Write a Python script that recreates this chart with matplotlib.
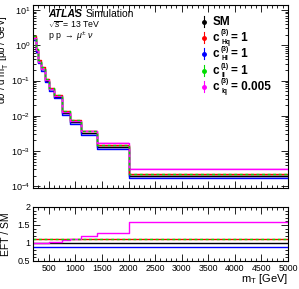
import numpy as np
import matplotlib
matplotlib.use('Agg')
import matplotlib.pyplot as plt
from matplotlib.ticker import MultipleLocator, LogLocator, NullFormatter

plt.rcParams['font.family'] = ['Liberation Sans', 'DejaVu Sans']
plt.rcParams['mathtext.fontset'] = 'custom'
plt.rcParams['mathtext.rm'] = 'Liberation Sans'
plt.rcParams['mathtext.it'] = 'Liberation Sans:italic'
plt.rcParams['mathtext.bf'] = 'Liberation Sans:bold'

# bin edges in m_T [GeV]
edges = [200, 250, 300, 350, 425, 500, 600, 750, 900, 1100, 1400, 2000, 5000]
# SM differential cross section [pb/GeV]
sm = [1.6, 0.72, 0.34, 0.21, 0.10, 0.056, 0.035, 0.012, 0.0066, 0.0032, 0.0013, 0.000195]
# EFT / SM ratios
r_hq3 = [1.12] * 12
r_hl3 = [0.90] * 12
r_ll1 = [1.12] * 12
r_lq3 = [1.01, 1.01, 1.01, 1.01, 1.01, 1.04, 1.04, 1.09, 1.11, 1.18, 1.29, 1.57]

# legend labels: base, superscript, subscript, value
leg_base = ['SM', 'c', 'c', 'c', 'c']
leg_sup = ['', '(3)', '(3)', '(1)', '(3)']
leg_sub = ['', 'Hq', 'Hl', 'll', 'lq']
leg_val = ['', '= 1', '= 1', '= 1', '= 0.005']
colors = ['black', 'red', 'blue', '#00dd00', '#ff00ff']

edges = np.array(edges)
sm = np.array(sm)
ratios = [np.ones(12), np.array(r_hq3), np.array(r_hl3), np.array(r_ll1), np.array(r_lq3)]

fig = plt.figure(figsize=(2.99, 2.89), dpi=100)
ax = fig.add_axes([0.110, 0.350, 0.853, 0.633])
axr = fig.add_axes([0.110, 0.097, 0.853, 0.187])

def stepvals(v):
    return np.append(v, v[-1])

# uncertainty bands
band = [0.04, 0.03, 0.05, 0.03, 0.05]
for i in [2, 4, 0]:
    y = sm * ratios[i]
    ax.fill_between(edges, stepvals(y * (1 - band[i])), stepvals(y * (1 + band[i])),
                    step='post', color=colors[i], alpha=0.25, lw=0)

for i in [0, 2, 1, 4]:
    ax.step(edges, stepvals(sm * ratios[i]), where='post', color=colors[i], lw=1.0)
    axr.step(edges, stepvals(ratios[i]), where='post', color=colors[i], lw=1.0)
ax.step(edges, stepvals(sm * ratios[3]), where='post', color=colors[3], lw=1.0, ls=(0, (2, 2)))
axr.step(edges, stepvals(ratios[3]), where='post', color=colors[3], lw=1.0, ls=(0, (2, 2)))

ax.set_yscale('log')
ax.set_ylim(9e-5, 14)
ax.set_xlim(200, 5000)
axr.set_xlim(200, 5000)
axr.set_ylim(0.5, 2)

for a in (ax, axr):
    a.tick_params(which='both', direction='in', top=True, right=True, labelsize=6.5, pad=2)
    a.tick_params(which='major', length=5, width=0.6)
    a.tick_params(which='minor', length=2.5, width=0.6)
    a.xaxis.set_major_locator(MultipleLocator(500))
    a.xaxis.set_minor_locator(MultipleLocator(100))
    for s in a.spines.values():
        s.set_linewidth(0.8)
ax.set_xticklabels([])
ax.yaxis.set_major_locator(LogLocator(base=10, numticks=10))
ax.yaxis.set_minor_locator(LogLocator(base=10, subs=np.arange(2, 10), numticks=20))
ax.yaxis.set_minor_formatter(NullFormatter())
axr.yaxis.set_minor_locator(MultipleLocator(0.1))
axr.set_yticks([0.5, 1, 1.5, 2])
axr.set_yticklabels(['0.5', '1', '1.5', '2'])
axr.set_xticks(np.arange(500, 5001, 500))
axr.set_xticklabels([str(v) for v in range(500, 5001, 500)], fontsize=6.3)

ax.set_ylabel(r'd$\sigma$ / d m$_{\mathrm{T}}^{l\nu}$ [pb / GeV]', fontsize=7, labelpad=1)
ax.yaxis.set_label_coords(-0.084, 0.70)
axr.set_ylabel('EFT / SM', fontsize=7.5, labelpad=1)
axr.yaxis.set_label_coords(-0.084, 0.5)
axr.set_xlabel(r'm$_{\mathrm{T}}$ [GeV]', fontsize=8)
axr.xaxis.set_label_coords(1.0, -0.33)
axr.xaxis.label.set_horizontalalignment('right')
axr.xaxis.label.set_verticalalignment('center')

ax.text(0.06, 0.951, 'ATLAS', transform=ax.transAxes, fontsize=7.5, fontweight='bold',
        fontstyle='italic', va='center')
ax.text(0.208, 0.951, 'Simulation', transform=ax.transAxes, fontsize=7.5, va='center')
ax.text(0.06, 0.891, r'$\sqrt{s}$ = 13 TeV', transform=ax.transAxes, fontsize=6.3, va='center')
ax.text(0.06, 0.83, r'p p $\rightarrow$ $\mu^{\pm}$ $\nu$', transform=ax.transAxes, fontsize=6.3, va='center')

# legend, placed by hand
leg_y = [0.909, 0.821, 0.732, 0.639, 0.552]
for k, yy in enumerate(leg_y):
    c = colors[k]
    ax.plot([0.67], [yy], 'o', color=c, ms=2.5, transform=ax.transAxes)
    ax.plot([0.67, 0.67], [yy - 0.03, yy + 0.03], '-', color=c, lw=0.8, transform=ax.transAxes)
    ax.text(0.706, yy, leg_base[k], transform=ax.transAxes, fontsize=8.5, fontweight='bold',
            va='center', ha='left')
    if leg_sup[k]:
        ax.text(0.738, yy + 0.027, leg_sup[k], transform=ax.transAxes, fontsize=4.8,
                fontweight='bold', va='center', ha='left')
        ax.text(0.738, yy - 0.026, leg_sub[k], transform=ax.transAxes, fontsize=4.8,
                fontweight='bold', va='center', ha='left')
        ax.text(0.778, yy, leg_val[k], transform=ax.transAxes, fontsize=8.5, fontweight='bold',
                va='center', ha='left')

fig.savefig('out.png', dpi=100)
